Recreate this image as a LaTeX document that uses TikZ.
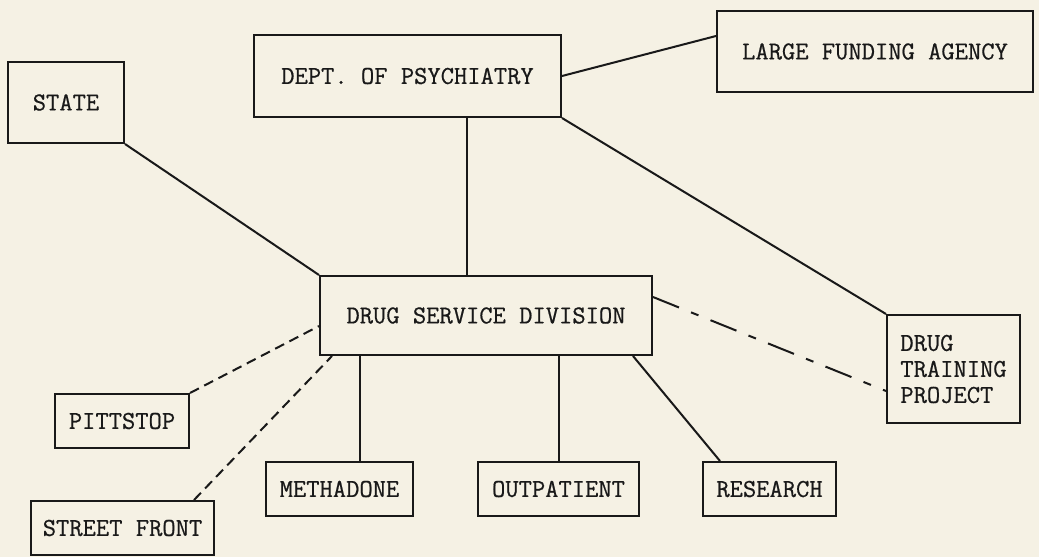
\documentclass[tikz,border=0pt]{standalone}
\usepackage{fontspec}
\usetikzlibrary{calc}
\newfontfamily\typewr{Latin Modern Mono}[FakeBold=0.6]
\definecolor{paper}{RGB}{245,241,228}
\definecolor{ink}{RGB}{25,25,25}
\begin{document}
\begin{tikzpicture}[x=1pt,y=-1pt,
  box/.style={draw=ink,line width=2pt,inner sep=0pt,text=ink,
    font=\fontsize{25.8}{26}\selectfont\typewr},
  link/.style={draw=ink,line width=2pt},
  dashlink/.style={draw=ink,line width=2pt,dash pattern=on 10pt off 6pt},
  dashdotlink/.style={draw=ink,line width=2pt,dash pattern=on 28pt off 13pt on 8pt off 13pt}]
\fill[paper] (0,0) rectangle (1039,557);
\useasboundingbox (0,0) rectangle (1039,557);

\node[box,minimum width=116pt,minimum height=81pt] (state) at (66,102.5) {STATE};
\node[box,minimum width=307pt,minimum height=82pt] (dept) at (407.5,76) {DEPT. OF PSYCHIATRY};
\node[box,minimum width=316pt,minimum height=81pt] (lfa) at (875,51.5) {LARGE FUNDING AGENCY};
\node[box,minimum width=332pt,minimum height=79pt] (dsd) at (486,315.5) {DRUG SERVICE DIVISION};
\node[box,minimum width=133pt,minimum height=108pt,align=left] (dtp) at (953.5,369) {DRUG\\TRAINING\\PROJECT};
\node[box,minimum width=134pt,minimum height=54pt] (pitt) at (122,421) {PITTSTOP};
\node[box,minimum width=183pt,minimum height=54pt] (street) at (122.5,528) {STREET FRONT};
\node[box,minimum width=147pt,minimum height=54pt] (meth) at (339.5,489) {METHADONE};
\node[box,minimum width=161pt,minimum height=54pt] (outp) at (558.5,489) {OUTPATIENT};
\node[box,minimum width=133pt,minimum height=54pt] (res) at (769.5,489) {RESEARCH};

\draw[link] (state.south east) -- (dsd.north west);
\draw[link] ($(dept.south west)+(214,0)$) -- ($(dsd.north west)+(148,0)$);
\draw[link] (dept.east) -- ($(lfa.north west)+(0,26)$);
\draw[link] (dept.south east) -- (dtp.north west);
\draw[dashdotlink] ($(dsd.north east)+(0,22)$) -- ($(dtp.north west)+(0,77)$);
\draw[link] ($(dsd.south west)+(41,0)$) -- ($(meth.north west)+(95,0)$);
\draw[link] ($(dsd.south west)+(240,0)$) -- ($(outp.north west)+(82,0)$);
\draw[link] ($(dsd.south west)+(314,0)$) -- ($(res.north west)+(18,0)$);
\draw[dashlink] (pitt.north east) -- ($(dsd.north west)+(0,51)$);
\draw[dashlink] ($(street.north east)+(-21,0)$) -- ($(dsd.south west)+(13,0)$);
\end{tikzpicture}
\end{document}
